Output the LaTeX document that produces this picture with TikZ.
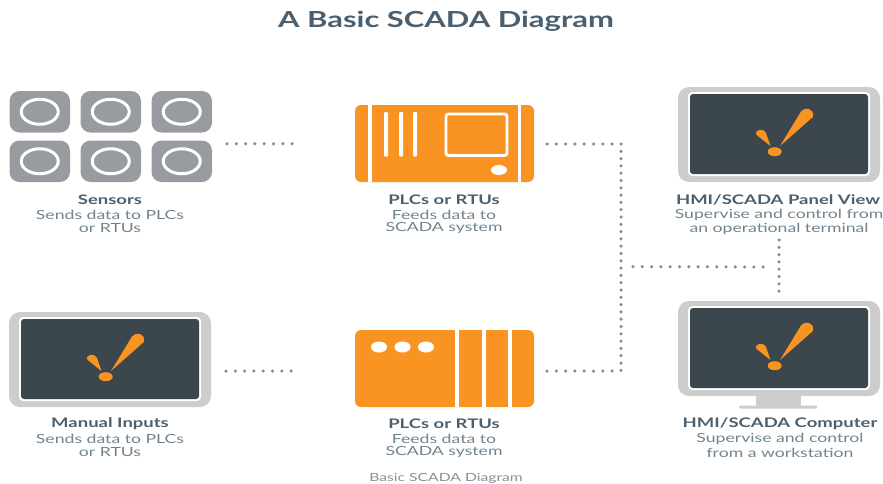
\documentclass[tikz,border=0pt]{standalone}
\usepackage{fontspec}
\setmainfont{Lato}[FakeStretch=1.4]
\newfontfamily\headfont{Lato}[FakeStretch=1.4,UprightFont=* Bold,BoldFont=* Bold]
\definecolor{plcorange}{HTML}{F99423}
\definecolor{tilegrey}{HTML}{989CA1}
\definecolor{framegrey}{HTML}{CDCDCD}
\definecolor{screendark}{HTML}{3B474D}
\definecolor{headblue}{HTML}{4A5F70}
\definecolor{descblue}{HTML}{71838F}
\definecolor{dotgrey}{HTML}{868C91}
\definecolor{capgrey}{HTML}{8B9094}
\tikzset{
  x=1pt,y=-1pt,
  box/.style={inner sep=0pt,outer sep=0pt,line width=0pt,anchor=north west},
  tile/.style={box,fill=tilegrey,rounded corners=10pt,minimum width=60.5pt,minimum height=41.5pt},
  plcbody/.style={box,fill=plcorange,rounded corners=6pt,minimum width=179pt,minimum height=77pt},
  hline/.style={line width=3.5pt,dotgrey,line cap=round,dash pattern=on 0pt off 9.3pt},
  vline/.style={line width=3.5pt,dotgrey,line cap=round,dash pattern=on 0pt off 7.3pt},
  headtext/.style={font=\headfont\fontsize{13.2}{15}\selectfont,text=headblue,inner sep=0pt},
  desctext/.style={font=\fontsize{12.6}{14}\selectfont,text=descblue,inner sep=0pt},
}
\newcommand{\monitorshape}[3]{%
  \begin{scope}[shift={(#1,#2)}]
    \node[box,fill=framegrey,rounded corners=11pt,minimum width=202pt,minimum height=95pt] (#3) at (0,0) {};
    \fill[white,rounded corners=4pt] (10,5) rectangle (192,89);
    \fill[screendark,rounded corners=3pt] (12,7) rectangle (190,87);
    \fill[plcorange] (102,59) -- (123.2,24.2) .. controls (126,20) and (137,20.5) .. (134.8,30) -- cycle;
    \fill[plcorange] (92.5,59) -- (78.4,47.8) .. controls (76,42) and (86.5,41) .. (88,46) -- cycle;
    \fill[plcorange] (96.7,64.7) ellipse (7pt and 4.5pt);
  \end{scope}}
\newcommand{\sensortile}[3]{%
  \node[tile] (#3) at (#1,#2) {};
  \draw[white,line width=3pt] ($(#3.center)$) ellipse (18.5pt and 12.5pt);}
\usetikzlibrary{calc}
\begin{document}
\begin{tikzpicture}
\useasboundingbox (0,0) rectangle (883,483);
\node[font=\headfont\fontsize{22.1}{24}\selectfont,text=headblue,inner sep=0pt] (title) at (446,21) {A Basic SCADA Diagram};

% sensors
\sensortile{9.5}{91}{s1}
\sensortile{80.5}{91}{s2}
\sensortile{151.5}{91}{s3}
\sensortile{9.5}{140.5}{s4}
\sensortile{80.5}{140.5}{s5}
\sensortile{151.5}{140.5}{s6}

% PLC 1
\node[plcbody] (plcA) at (355,105) {};
\fill[white] (368,105) rectangle (371.5,182);
\fill[white] (517.5,105) rectangle (521,182);
\foreach \xx in {386,401,415}{
  \fill[white,rounded corners=1pt] (\xx-2,112) rectangle (\xx+2,156.5);}
\draw[white,line width=2.8pt,rounded corners=2.5pt] (446,114) rectangle (507,155.5);
\fill[white] (499,170) ellipse (8pt and 5pt);

% PLC 2
\node[plcbody] (plcB) at (355,330) {};
\foreach \xx in {457,484,510}{
  \fill[white] (\xx-2,330) rectangle (\xx+2,407);}
\foreach \xx in {379,402.5,426}{
  \fill[white] (\xx,347) ellipse (8pt and 5.5pt);}

% monitors
\monitorshape{678}{87}{panel}
\monitorshape{678}{301}{computer}
\fill[framegrey] (756,395) rectangle (801,406.5);
\fill[framegrey,rounded corners=1pt] (739,405.5) rectangle (817,408.5);
\monitorshape{9}{312}{manual}

% connectors
\coordinate (sensorport) at ($(s6.east)+(0,-17.5)$);
\coordinate (bustop) at ($(plcA.east)+(87,0.5)$);
\coordinate (busbottom) at ($(plcB.east)+(87,2.5)$);
\coordinate (branchbus) at ($(bustop)!0.54!(busbottom)$);
\coordinate (branchend) at (779,267);
\draw[hline,shorten <=15pt,shorten >=57pt] (sensorport) -- (sensorport -| plcA.west);
\draw[hline,shorten <=15pt,shorten >=57pt] (manual.east |- busbottom) -- (busbottom -| plcB.west);
\draw[hline,shorten <=13pt] (plcA.east |- bustop) -- (bustop);
\draw[hline,shorten <=13pt] (plcB.east |- busbottom) -- (busbottom);
\draw[vline] (bustop) -- (busbottom);
\draw[hline,shorten <=12pt,shorten >=7pt] (branchbus) -- (branchend);
\draw[vline,shorten <=58pt,shorten >=6pt] (panel.south -| branchend) -- (computer.north -| branchend);

% labels
\node[headtext] (sA) at (110,199.5) {Sensors};
\node[desctext] (sB) at (110,214.5) {Sends data to PLCs};
\node[desctext] (sC) at (110,228.5) {or RTUs};
\node[headtext] (pA) at (444,199.5) {PLCs or RTUs};
\node[desctext] (pB) at (444,214.5) {Feeds data to};
\node[desctext] (pC) at (444,228.5) {SCADA system};
\node[headtext] (hA) at (778,199.5) {HMI/SCADA Panel View};
\node[desctext] (hB) at (779,214.5) {Supervise and control from};
\node[desctext] (hC) at (779,228.5) {an operational terminal};
\node[headtext] (mA) at (110,424) {Manual Inputs};
\node[desctext] (mB) at (110,438.5) {Sends data to PLCs};
\node[desctext] (mC) at (110,452.5) {or RTUs};
\node[headtext] (qA) at (444,424) {PLCs or RTUs};
\node[desctext] (qB) at (444,438.5) {Feeds data to};
\node[desctext] (qC) at (444,452.5) {SCADA system};
\node[headtext] (cA) at (780,424) {HMI/SCADA Computer};
\node[desctext] (cB) at (780,438.5) {Supervise and control};
\node[desctext] (cC) at (780,452.5) {from a workstation};
\node[font=\fontsize{11.2}{13}\selectfont,text=capgrey,inner sep=0pt] (cap) at (446,478) {Basic SCADA Diagram};
\end{tikzpicture}
\end{document}
